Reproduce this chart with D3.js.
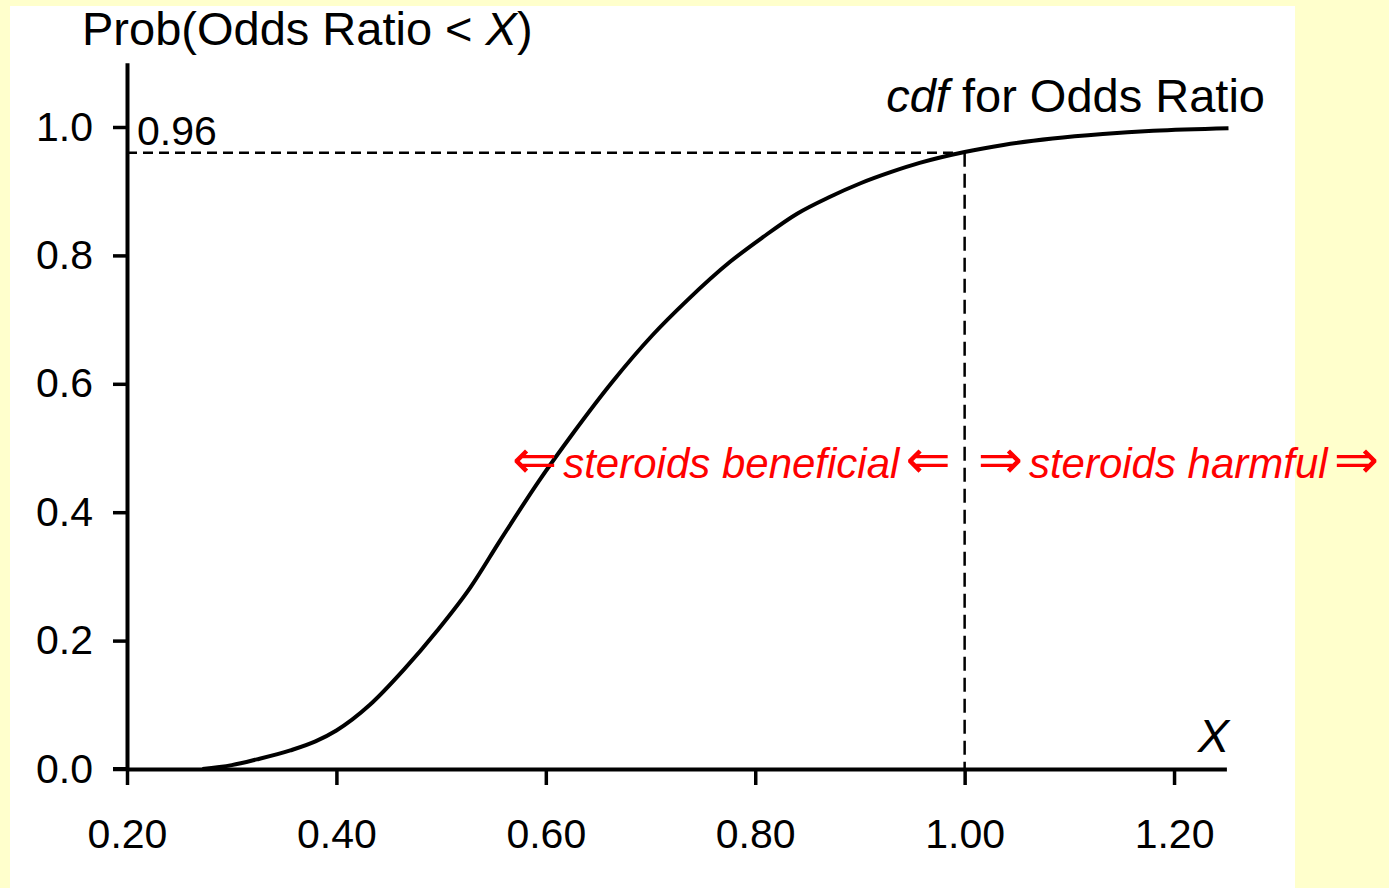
<!DOCTYPE html>
<html>
<head>
<meta charset="utf-8">
<script src="https://cdn.jsdelivr.net/npm/d3@7"></script>
<style>
  body { margin: 0; background: #FFFFCC; }
  text { font-family: "Liberation Sans", Arial, sans-serif; }
</style>
</head>
<body>
<div id="chart"></div>
<script>
// odds ratio values (x) and cumulative probability
var oddsRatio = [0.272, 0.30, 0.324, 0.356, 0.38, 0.40, 0.432, 0.464, 0.496, 0.528, 0.556, 0.594,
    0.626, 0.664, 0.702, 0.735, 0.776, 0.807, 0.84, 0.871, 0.90, 0.93, 0.957, 1.0,
    1.037, 1.084, 1.132, 1.180, 1.252];
var cdfValues = [0.0, 0.006, 0.015, 0.029, 0.043, 0.06, 0.10, 0.154, 0.215, 0.283, 0.355, 0.45,
    0.523, 0.604, 0.676, 0.73, 0.79, 0.828, 0.865, 0.891, 0.912, 0.930, 0.944, 0.961,
    0.972, 0.982, 0.989, 0.994, 0.998];
var xTicks = [0.2, 0.4, 0.6, 0.8, 1.0, 1.2];
var yTicks = [0.0, 0.2, 0.4, 0.6, 0.8, 1.0];
var cutoff = 1.0;
var probAtCutoff = 0.96;

var width = 1389, height = 888;

var svg = d3.select("#chart")
    .append("svg")
    .attr("width", width)
    .attr("height", height);

svg.append("rect")
    .attr("width", width).attr("height", height)
    .attr("fill", "#FFFFCC");

svg.append("rect")
    .attr("x", 10).attr("y", 6)
    .attr("width", 1285).attr("height", height - 6)
    .attr("fill", "white");

var x = d3.scaleLinear().domain([0.2, 1.25]).range([127, 1226.4]);
var y = d3.scaleLinear().domain([0, 1.1]).range([769, 62.8]);

// x axis
var xAxis = svg.append("g")
    .attr("transform", "translate(0," + y(0) + ")")
    .call(d3.axisBottom(x).tickValues(xTicks).tickSize(16).tickSizeOuter(0).tickPadding(34)
        .tickFormat(d3.format(".2f")));

// y axis
var yAxis = svg.append("g")
    .attr("transform", "translate(" + x(0.2) + ",0)")
    .call(d3.axisLeft(y).tickValues(yTicks).tickSize(14).tickSizeOuter(0).tickPadding(20)
        .tickFormat(d3.format(".1f")));

[xAxis, yAxis].forEach(function (ax) {
    ax.select(".domain").attr("stroke", "black").attr("stroke-width", 4);
    ax.selectAll(".tick line").attr("stroke", "black").attr("stroke-width", 3.5);
    ax.selectAll(".tick text")
        .attr("fill", "black")
        .style("font-family", "'Liberation Sans', Arial, sans-serif")
        .style("font-size", "41px");
});
// x axis line also runs out to the 0.0 tick on the left
svg.append("line")
    .attr("x1", x(0.2) - 14).attr("x2", x(0.2))
    .attr("y1", y(0)).attr("y2", y(0))
    .attr("stroke", "black").attr("stroke-width", 4);

// dashed guide lines at 0.96 / 1.00
svg.append("line")
    .attr("x1", x(0.2)).attr("x2", x(cutoff))
    .attr("y1", y(probAtCutoff)).attr("y2", y(probAtCutoff))
    .attr("stroke", "black").attr("stroke-width", 2.5)
    .attr("stroke-dasharray", "10,6");

svg.append("line")
    .attr("x1", x(cutoff)).attr("x2", x(cutoff))
    .attr("y1", y(probAtCutoff)).attr("y2", y(0))
    .attr("stroke", "black").attr("stroke-width", 2.5)
    .attr("stroke-dasharray", "14,7");

// the cdf curve
var points = oddsRatio.map(function (d, i) { return [d, cdfValues[i]]; });
var line = d3.line()
    .x(function (d) { return x(d[0]); })
    .y(function (d) { return y(d[1]); })
    .curve(d3.curveMonotoneX);

svg.append("path")
    .datum(points)
    .attr("d", line)
    .attr("fill", "none")
    .attr("stroke", "black")
    .attr("stroke-width", 4);

// labels
var title = svg.append("text")
    .attr("x", 82).attr("y", 45)
    .style("font-size", "47px");
title.append("tspan").text("Prob(Odds Ratio < ");
title.append("tspan").style("font-style", "italic").text("X");
title.append("tspan").text(")");

var cdfLabel = svg.append("text")
    .attr("x", 1265).attr("y", 112)
    .attr("text-anchor", "end")
    .style("font-size", "47px");
cdfLabel.append("tspan").style("font-style", "italic").text("cdf");
cdfLabel.append("tspan").text(" for Odds Ratio");

svg.append("text")
    .attr("x", 137).attr("y", 145)
    .style("font-size", "41px")
    .text("0.96");

svg.append("text")
    .attr("x", 1229).attr("y", 752)
    .attr("text-anchor", "end")
    .style("font-size", "47px")
    .style("font-style", "italic")
    .text("X");

// red annotation either side of X = 1
function arrowText(xPos, anchor, arrow, label) {
    var t = svg.append("text")
        .attr("x", xPos).attr("y", 478)
        .attr("text-anchor", anchor)
        .attr("fill", "red")
        .style("font-size", "42px");
    t.append("tspan")
        .style("font-family", "'DejaVu Sans', sans-serif")
        .style("font-size", "54px")
        .text(arrow);
    t.append("tspan")
        .attr("dx", 6)
        .style("font-style", "italic")
        .text(label);
    t.append("tspan")
        .attr("dx", 6)
        .style("font-family", "'DejaVu Sans', sans-serif")
        .style("font-size", "54px")
        .text(arrow);
}
arrowText(x(cutoff) - 14, "end", "\u21D0", "steroids beneficial");
arrowText(x(cutoff) + 13, "start", "\u21D2", "steroids harmful");
</script>
</body>
</html>
